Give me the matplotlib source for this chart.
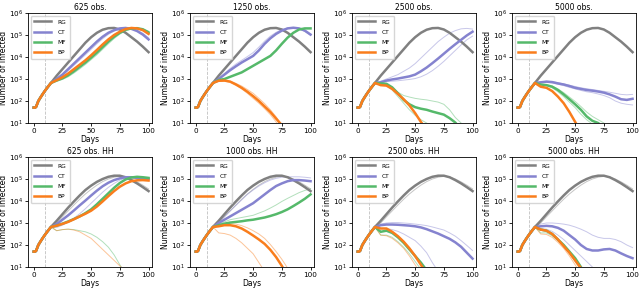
import matplotlib
matplotlib.use("Agg")
import matplotlib.pyplot as plt
import numpy as np

# days of each reading, and the shared early phase (log10 of infected)
days = [0, 1, 2, 4, 6, 8, 10, 12, 15, 20, 25, 30, 35, 40, 45, 50, 55, 60,
        65, 70, 75, 80, 85, 90, 95, 100]
start = [1.70, 1.70, 1.73, 2.00, 2.17, 2.33, 2.48, 2.62, 2.82]

# log10(infected) for days 20..100, step 5
rg_top = [3.15, 3.45, 3.75, 4.05, 4.35, 4.65, 4.9, 5.1, 5.24, 5.31, 5.32, 5.25, 5.1, 4.9, 4.7, 4.47, 4.22]
rg_hh = [3.1, 3.4, 3.7, 3.98, 4.25, 4.5, 4.7, 4.87, 5.0, 5.1, 5.15, 5.15, 5.08, 4.95, 4.8, 4.63, 4.45]
rg_hh_thin = [3.0, 3.28, 3.55, 3.82, 4.08, 4.32, 4.53, 4.72, 4.88, 5.0, 5.08, 5.12, 5.1, 5.0, 4.87, 4.72, 4.55]

# 625 obs.
a_ct = [3.0, 3.2, 3.45, 3.7, 3.95, 4.2, 4.45, 4.7, 4.92, 5.1, 5.22, 5.3, 5.32, 5.28, 5.18, 5.02, 4.8]
a_ct_thin = [2.98, 3.15, 3.38, 3.62, 3.86, 4.1, 4.35, 4.6, 4.83, 5.03, 5.18, 5.27, 5.31, 5.3, 5.22, 5.08, 4.88]
a_mf = [2.93, 3.03, 3.17, 3.35, 3.55, 3.75, 3.97, 4.2, 4.45, 4.7, 4.92, 5.1, 5.24, 5.3, 5.31, 5.26, 5.12]
a_mf_thin = [2.9, 2.98, 3.1, 3.27, 3.46, 3.66, 3.88, 4.1, 4.35, 4.6, 4.84, 5.04, 5.19, 5.28, 5.31, 5.28, 5.17]
a_bp = [2.95, 3.08, 3.25, 3.45, 3.65, 3.85, 4.08, 4.32, 4.57, 4.8, 5.0, 5.15, 5.27, 5.32, 5.3, 5.22, 5.05]

# 1250 obs.
b_ct = [3.0, 3.2, 3.4, 3.58, 3.75, 3.9, 4.05, 4.3, 4.6, 4.85, 5.05, 5.2, 5.3, 5.33, 5.3, 5.2, 5.02]
b_ct_thin = [3.02, 3.25, 3.48, 3.68, 3.85, 4.02, 4.2, 4.45, 4.72, 4.95, 5.12, 5.25, 5.32, 5.33, 5.28, 5.16, 4.98]
b_mf = [2.95, 3.0, 3.1, 3.2, 3.3, 3.45, 3.6, 3.75, 3.9, 4.05, 4.3, 4.6, 4.88, 5.1, 5.25, 5.3, 5.3]
b_bp = [2.92, 2.93, 2.88, 2.75, 2.6, 2.42, 2.22, 2.0, 1.75, 1.5, 1.2, 0.9, 0.6, 0.3, 0.1, 0.0, 0.0]
b_bp_thin1 = [2.9, 2.92, 2.9, 2.8, 2.68, 2.52, 2.35, 2.12, 1.88, 1.6, 1.28, 0.9, 0.6, 0.3, 0.1, 0.0, 0.0]
b_bp_thin2 = [2.9, 2.9, 2.85, 2.72, 2.55, 2.35, 2.12, 1.9, 1.65, 1.38, 1.05, 0.7, 0.4, 0.2, 0.0, 0.0, 0.0]

# 2500 obs.
c_ct = [2.85, 2.93, 2.98, 3.02, 3.07, 3.12, 3.2, 3.35, 3.52, 3.72, 3.93, 4.15, 4.37, 4.58, 4.78, 4.98, 5.15]
c_ct_thin1 = [2.9, 3.0, 3.1, 3.2, 3.35, 3.5, 3.7, 3.95, 4.2, 4.45, 4.7, 4.9, 5.08, 5.2, 5.28, 5.3, 5.27]
c_ct_thin2 = [2.85, 2.88, 2.9, 2.92, 2.95, 2.98, 3.02, 3.1, 3.22, 3.38, 3.58, 3.8, 4.05, 4.3, 4.55, 4.78, 4.95]
c_mf = [2.8, 2.78, 2.62, 2.35, 2.05, 1.85, 1.72, 1.65, 1.6, 1.52, 1.45, 1.38, 1.22, 1.02, 0.7, 0.4, 0.2]
c_mf_thin1 = [2.8, 2.75, 2.6, 2.4, 2.25, 2.18, 2.12, 2.08, 2.05, 2.0, 1.95, 1.85, 1.6, 1.25, 1.0, 0.7, 0.4]
c_mf_thin2 = [2.78, 2.7, 2.5, 2.2, 1.9, 1.6, 1.35, 1.15, 1.0, 0.8, 0.6, 0.4, 0.2, 0.0, 0.0, 0.0, 0.0]
c_bp = [2.72, 2.7, 2.55, 2.32, 2.08, 1.8, 1.45, 1.05, 0.7, 0.4, 0.2, 0.0, 0.0, 0.0, 0.0, 0.0, 0.0]

# 5000 obs.
d_ct = [2.85, 2.88, 2.86, 2.8, 2.75, 2.68, 2.6, 2.55, 2.5, 2.47, 2.43, 2.38, 2.3, 2.2, 2.08, 2.05, 2.1]
d_ct_thin1 = [2.86, 2.9, 2.88, 2.83, 2.78, 2.72, 2.66, 2.6, 2.56, 2.52, 2.48, 2.44, 2.4, 2.35, 2.3, 2.28, 2.3]
d_ct_thin2 = [2.84, 2.85, 2.82, 2.76, 2.7, 2.62, 2.55, 2.48, 2.42, 2.38, 2.32, 2.25, 2.15, 2.0, 1.9, 1.85, 1.82]
d_mf = [2.75, 2.72, 2.65, 2.5, 2.3, 2.08, 1.85, 1.6, 1.3, 1.1, 1.0, 0.8, 0.5, 0.2, 0.0, 0.0, 0.0]
d_mf_thin1 = [2.75, 2.73, 2.68, 2.55, 2.38, 2.18, 1.98, 1.75, 1.5, 1.3, 1.15, 1.0, 0.7, 0.4, 0.0, 0.0, 0.0]
d_mf_thin2 = [2.73, 2.7, 2.6, 2.42, 2.2, 1.95, 1.7, 1.4, 1.15, 0.95, 0.7, 0.4, 0.1, 0.0, 0.0, 0.0, 0.0]
d_bp = [2.65, 2.6, 2.45, 2.2, 1.9, 1.5, 1.05, 0.6, 0.3, 0.0, 0.0, 0.0, 0.0, 0.0, 0.0, 0.0, 0.0]

# 625 obs. HH
e_ct = [2.95, 3.15, 3.35, 3.57, 3.8, 4.02, 4.25, 4.47, 4.67, 4.83, 4.95, 5.03, 5.08, 5.08, 5.05, 5.02, 5.0]
e_ct_thin = [2.8, 2.9, 3.05, 3.22, 3.42, 3.65, 3.9, 4.15, 4.4, 4.62, 4.8, 4.95, 5.05, 5.1, 5.1, 5.08, 5.05]
e_mf = [2.88, 2.97, 3.07, 3.18, 3.3, 3.45, 3.62, 3.85, 4.1, 4.35, 4.6, 4.82, 4.98, 5.07, 5.1, 5.08, 5.05]
e_bp = [2.88, 2.96, 3.05, 3.17, 3.3, 3.42, 3.56, 3.75, 3.98, 4.22, 4.45, 4.65, 4.8, 4.9, 4.94, 4.95, 4.93]
e_bp_thin = [2.65, 2.7, 2.72, 2.68, 2.6, 2.45, 2.3, 2.05, 1.8, 1.55, 1.3, 1.05, 0.8, 0.5, 0.2, 0.0, 0.0]
e_mf_thin = [2.65, 2.7, 2.72, 2.7, 2.65, 2.6, 2.5, 2.35, 2.15, 1.9, 1.55, 1.1, 0.7, 0.4, 0.1, 0.0, 0.0]

# 1000 obs. HH
f_ct = [3.0, 3.15, 3.3, 3.45, 3.6, 3.75, 3.9, 4.1, 4.3, 4.5, 4.68, 4.8, 4.9, 4.95, 4.95, 4.93, 4.9]
f_ct_thin = [3.05, 3.3, 3.55, 3.8, 4.05, 4.3, 4.5, 4.68, 4.83, 4.95, 5.03, 5.08, 5.1, 5.1, 5.1, 5.08, 5.05]
f_mf = [2.9, 2.97, 3.02, 3.05, 3.08, 3.12, 3.15, 3.2, 3.25, 3.32, 3.4, 3.5, 3.62, 3.77, 3.93, 4.1, 4.3]
f_mf_thin = [2.95, 3.05, 3.15, 3.2, 3.25, 3.3, 3.35, 3.45, 3.55, 3.68, 3.82, 3.98, 4.12, 4.25, 4.38, 4.48, 4.55]
f_bp = [2.85, 2.9, 2.9, 2.85, 2.75, 2.6, 2.43, 2.25, 2.05, 1.78, 1.45, 1.05, 0.6, 0.2, 0.0, 0.0, 0.0]
f_bp_thin1 = [2.88, 2.95, 2.97, 2.95, 2.88, 2.78, 2.65, 2.5, 2.3, 2.02, 1.7, 1.35, 0.95, 0.5, 0.1, 0.0, 0.0]
f_bp_thin2 = [2.55, 2.52, 2.45, 2.3, 2.1, 1.85, 1.6, 1.2, 0.8, 0.4, 0.0, 0.0, 0.0, 0.0, 0.0, 0.0, 0.0]

# 2500 obs. HH
g_ct = [2.9, 2.93, 2.93, 2.92, 2.9, 2.88, 2.85, 2.8, 2.72, 2.62, 2.52, 2.4, 2.28, 2.12, 1.92, 1.65, 1.38]
g_ct_thin1 = [2.95, 3.0, 3.02, 3.02, 3.0, 2.98, 2.95, 2.92, 2.88, 2.82, 2.75, 2.68, 2.55, 2.4, 2.2, 1.98, 1.75]
g_ct_thin2 = [2.75, 2.75, 2.7, 2.62, 2.5, 2.35, 2.2, 1.95, 1.65, 1.2, 0.8, 0.4, 0.0, 0.0, 0.0, 0.0, 0.0]
g_mf = [2.6, 2.65, 2.55, 2.35, 2.1, 1.8, 1.5, 1.2, 0.85, 0.5, 0.2, 0.0, 0.0, 0.0, 0.0, 0.0, 0.0]
g_mf_thin = [2.45, 2.45, 2.35, 2.15, 1.9, 1.6, 1.25, 0.9, 0.5, 0.2, 0.0, 0.0, 0.0, 0.0, 0.0, 0.0, 0.0]
g_bp = [2.75, 2.75, 2.6, 2.4, 2.15, 1.85, 1.5, 1.1, 0.7, 0.3, 0.0, 0.0, 0.0, 0.0, 0.0, 0.0, 0.0]
g_bp_thin = [2.45, 2.42, 2.3, 2.1, 1.85, 1.5, 1.1, 0.7, 0.3, 0.0, 0.0, 0.0, 0.0, 0.0, 0.0, 0.0, 0.0]

# 5000 obs. HH
h_ct = [2.85, 2.87, 2.85, 2.78, 2.65, 2.45, 2.25, 2.0, 1.82, 1.75, 1.75, 1.8, 1.82, 1.75, 1.62, 1.5, 1.4]
h_ct_thin1 = [2.95, 3.0, 3.0, 2.98, 2.95, 2.9, 2.82, 2.72, 2.6, 2.45, 2.35, 2.3, 2.3, 2.25, 2.15, 2.0, 1.88]
h_ct_thin2 = [2.75, 2.72, 2.62, 2.45, 2.25, 2.0, 1.75, 1.5, 1.25, 1.0, 0.7, 0.4, 0.0, 0.0, 0.0, 0.0, 0.0]
h_mf = [2.7, 2.65, 2.5, 2.25, 2.0, 1.7, 1.4, 1.0, 0.6, 0.2, 0.0, 0.0, 0.0, 0.0, 0.0, 0.0, 0.0]
h_mf_thin = [2.55, 2.55, 2.42, 2.2, 1.95, 1.62, 1.25, 0.85, 0.4, 0.0, 0.0, 0.0, 0.0, 0.0, 0.0, 0.0, 0.0]
h_bp = [2.7, 2.65, 2.5, 2.25, 1.95, 1.65, 1.3, 0.95, 0.55, 0.2, 0.0, 0.0, 0.0, 0.0, 0.0, 0.0, 0.0]
h_bp_thin = [2.5, 2.48, 2.35, 2.12, 1.85, 1.5, 1.1, 0.7, 0.3, 0.0, 0.0, 0.0, 0.0, 0.0, 0.0, 0.0, 0.0]

titles = ["625 obs.", "1250 obs.", "2500 obs.", "5000 obs.",
          "625 obs. HH", "1000 obs. HH", "2500 obs. HH", "5000 obs. HH"]
methods = ["RG", "CT", "MF", "BP"]
colors = {"RG": "#808080", "CT": "#8583cf", "MF": "#55b96a", "BP": "#f97d1c"}

# main curve per method, and thin replicate runs per method
panels = [
    ({"RG": rg_top, "CT": a_ct, "MF": a_mf, "BP": a_bp},
     {"CT": [a_ct_thin], "MF": [a_mf_thin]}),
    ({"RG": rg_top, "CT": b_ct, "MF": b_mf, "BP": b_bp},
     {"CT": [b_ct_thin], "BP": [b_bp_thin1, b_bp_thin2]}),
    ({"RG": rg_top, "CT": c_ct, "MF": c_mf, "BP": c_bp},
     {"CT": [c_ct_thin1, c_ct_thin2], "MF": [c_mf_thin1, c_mf_thin2]}),
    ({"RG": rg_top, "CT": d_ct, "MF": d_mf, "BP": d_bp},
     {"CT": [d_ct_thin1, d_ct_thin2], "MF": [d_mf_thin1, d_mf_thin2]}),
    ({"RG": rg_hh, "CT": e_ct, "MF": e_mf, "BP": e_bp},
     {"RG": [rg_hh_thin], "CT": [e_ct_thin], "MF": [e_mf_thin], "BP": [e_bp_thin]}),
    ({"RG": rg_hh, "CT": f_ct, "MF": f_mf, "BP": f_bp},
     {"RG": [rg_hh_thin], "CT": [f_ct_thin], "MF": [f_mf_thin], "BP": [f_bp_thin1, f_bp_thin2]}),
    ({"RG": rg_hh, "CT": g_ct, "MF": g_mf, "BP": g_bp},
     {"RG": [rg_hh_thin], "CT": [g_ct_thin1, g_ct_thin2], "MF": [g_mf_thin], "BP": [g_bp_thin]}),
    ({"RG": rg_hh, "CT": h_ct, "MF": h_mf, "BP": h_bp},
     {"RG": [rg_hh_thin], "CT": [h_ct_thin1, h_ct_thin2], "MF": [h_mf_thin], "BP": [h_bp_thin]}),
]

fig = plt.figure(figsize=(6.4, 2.88), dpi=100)
lefts = [28, 190, 352, 512]
for i, (main, thin) in enumerate(panels):
    row, col = divmod(i, 4)
    bottom = 165 if row == 0 else 21
    ax = fig.add_axes([lefts[col] / 640, bottom / 288, 124 / 640, 110 / 288])

    for m in methods:
        for run in thin.get(m, []):
            ax.plot(days, 10 ** np.array(start + run), color=colors[m], lw=0.7, alpha=0.45)
    for m in methods:
        ax.plot(days, 10 ** np.array(start + main[m]), color=colors[m], lw=1.8, label=m)

    ax.axvline(10, color="#c0c0c0", lw=0.6, ls="--", zorder=0)
    ax.set_yscale("log")
    ax.set_ylim(10, 1e6)
    ax.set_xlim(-5, 103)
    ax.set_xticks([0, 25, 50, 75, 100])
    ax.tick_params(labelsize=5.2, length=2.5, width=0.6, pad=1.2)
    ax.minorticks_off()
    for s in ax.spines.values():
        s.set_linewidth(0.6)
    ax.set_title(titles[i], fontsize=5.5, pad=2)
    ax.set_xlabel("Days", fontsize=5.5, labelpad=0.5)
    ax.set_ylabel("Number of infected", fontsize=5.5, labelpad=0.5)
    ax.legend(loc="upper left", fontsize=4.2, handlelength=2.8, borderpad=0.6,
              labelspacing=0.9, handletextpad=1.2, framealpha=0.8)

fig.savefig("out.png", dpi=100)
